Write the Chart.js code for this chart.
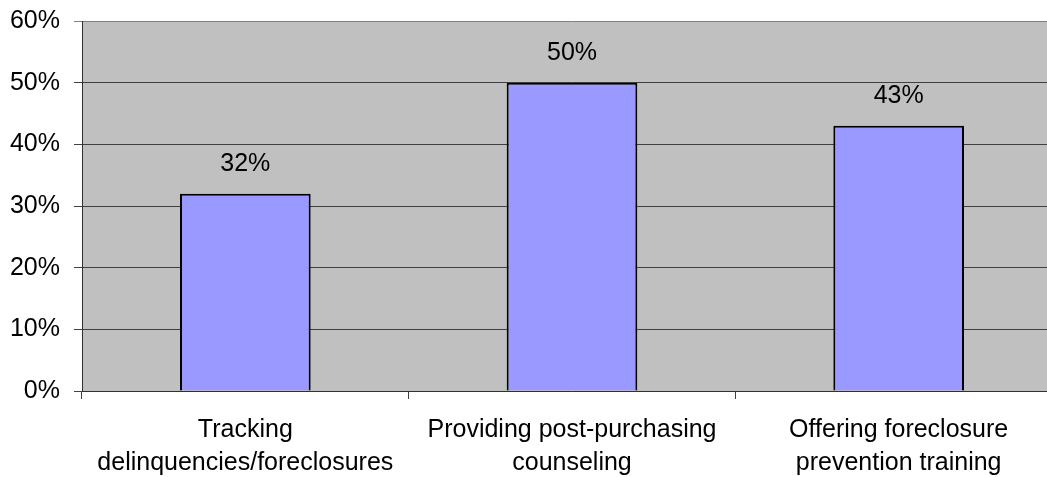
<!DOCTYPE html>
<html>
<head>
<meta charset="utf-8">
<script src="https://cdn.jsdelivr.net/npm/chart.js@4/dist/chart.umd.min.js"></script>
<style>
  html, body { margin: 0; padding: 0; background: #ffffff; overflow: hidden; }
  #wrap { width: 1062px; height: 477px; }
</style>
</head>
<body>
<div id="wrap"><canvas id="c" width="1062" height="477"></canvas></div>
<script>
// Survey categories (multi-line labels) and share of respondents
const categories = [
  ['Tracking', 'delinquencies/foreclosures'],
  ['Providing post-purchasing', 'counseling'],
  ['Offering foreclosure', 'prevention training']
];
const shares = [32, 50, 43];
const yTicks = [0, 10, 20, 30, 40, 50, 60];

const FONT = "'Liberation Sans', Arial, sans-serif";

// Gray plot background
const plotBackground = {
  id: 'plotBackground',
  beforeDraw(chart) {
    const { ctx, chartArea: a } = chart;
    ctx.save();
    ctx.fillStyle = '#c0c0c0';
    ctx.fillRect(a.left, a.top, a.right - a.left, a.bottom - a.top);
    ctx.restore();
  }
};

// Percentage labels above each bar
const valueLabels = {
  id: 'valueLabels',
  afterDatasetsDraw(chart) {
    const { ctx } = chart;
    const meta = chart.getDatasetMeta(0);
    ctx.save();
    ctx.font = '25px ' + FONT;
    ctx.fillStyle = '#000000';
    ctx.textAlign = 'center';
    ctx.textBaseline = 'middle';
    meta.data.forEach((bar, i) => {
      ctx.fillText(shares[i] + '%', bar.x, bar.y - 30);
    });
    ctx.restore();
  }
};

new Chart(document.getElementById('c'), {
  type: 'bar',
  data: {
    labels: categories,
    datasets: [{
      data: shares,
      backgroundColor: '#9999ff',
      borderColor: '#000000',
      borderWidth: 2,
      barPercentage: 0.4,
      categoryPercentage: 1.0
    }]
  },
  options: {
    responsive: false,
    devicePixelRatio: 1,
    animation: false,
    layout: { padding: { top: 21, right: 0, bottom: 0, left: 0 } },
    plugins: {
      legend: { display: false },
      tooltip: { enabled: false },
      title: { display: false }
    },
    scales: {
      x: {
        offset: true,
        grid: {
          offset: true,
          drawOnChartArea: false,
          drawTicks: true,
          tickLength: 8,
          tickColor: '#404040',
          tickWidth: 1
        },
        border: { display: true, color: '#303030', width: 1 },
        ticks: {
          color: '#000000',
          font: { family: FONT, size: 25, lineHeight: 1.34 },
          padding: 14,
          maxRotation: 0,
          autoSkip: false
        },
        afterFit(scale) { scale.height = 86; }
      },
      y: {
        min: 0,
        max: 60,
        afterBuildTicks(scale) {
          scale.ticks = yTicks.map(v => ({ value: v }));
        },
        grid: {
          color: ctx => (ctx.tick && ctx.tick.value === 60) ? '#808080' : '#404040',
          tickColor: ctx => (ctx.tick && ctx.tick.value === 60) ? '#808080' : '#404040',
          lineWidth: 1,
          tickLength: 8,
          drawTicks: true
        },
        border: { display: true, color: '#303030', width: 1 },
        ticks: {
          color: '#000000',
          font: { family: FONT, size: 25 },
          padding: 14,
          callback: v => v + '%'
        },
        afterFit(scale) {
          scale.width = 82;
          scale.paddingTop = 0;
          scale.paddingBottom = 0;
        }
      }
    }
  },
  plugins: [plotBackground, valueLabels]
});
</script>
</body>
</html>
